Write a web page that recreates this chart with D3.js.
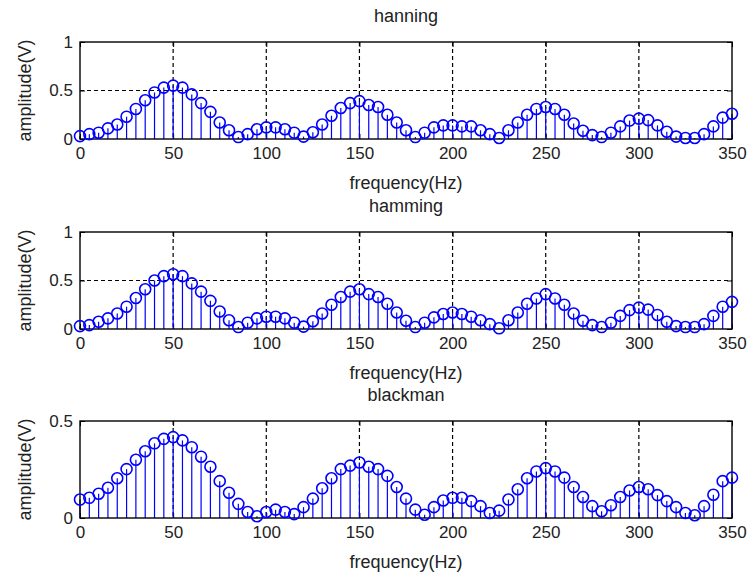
<!DOCTYPE html>
<html>
<head>
<meta charset="utf-8">
<script src="https://cdn.jsdelivr.net/npm/d3@7"></script>
<style>
  body { margin: 0; background: #fff; }
  svg { display: block; }
  text { font-family: "Liberation Sans", Arial, sans-serif; fill: #222; }
</style>
</head>
<body>
<div id="chart"></div>
<script>
/*=====================================================================
 data
======================================================================*/
var freq = [0, 5, 10, 15, 20, 25, 30, 35, 40, 45, 50, 55, 60, 65, 70, 75, 80, 85, 90, 95,
            100, 105, 110, 115, 120, 125, 130, 135, 140, 145, 150, 155, 160, 165, 170, 175, 180, 185, 190, 195,
            200, 205, 210, 215, 220, 225, 230, 235, 240, 245, 250, 255, 260, 265, 270, 275, 280, 285, 290, 295,
            300, 305, 310, 315, 320, 325, 330, 335, 340, 345, 350];

var hanning = [0.03, 0.05, 0.065, 0.11, 0.15, 0.23, 0.31, 0.40, 0.48, 0.53, 0.55, 0.53, 0.46, 0.37, 0.28, 0.17, 0.09, 0.02, 0.05, 0.10,
               0.12, 0.12, 0.10, 0.065, 0.025, 0.07, 0.15, 0.24, 0.32, 0.37, 0.39, 0.35, 0.33, 0.25, 0.17, 0.09, 0.02, 0.065, 0.12, 0.14,
               0.14, 0.13, 0.13, 0.09, 0.05, 0.01, 0.09, 0.17, 0.25, 0.31, 0.33, 0.31, 0.25, 0.16, 0.085, 0.04, 0.02, 0.065, 0.13, 0.19,
               0.21, 0.195, 0.14, 0.075, 0.025, 0.01, 0.01, 0.05, 0.13, 0.22, 0.26];

var hamming = [0.03, 0.04, 0.075, 0.11, 0.16, 0.23, 0.32, 0.41, 0.50, 0.545, 0.565, 0.545, 0.47, 0.385, 0.29, 0.18, 0.09, 0.02, 0.065, 0.11,
               0.127, 0.127, 0.11, 0.065, 0.025, 0.08, 0.16, 0.25, 0.33, 0.385, 0.41, 0.36, 0.33, 0.26, 0.17, 0.085, 0.02, 0.065, 0.12, 0.155,
               0.17, 0.155, 0.127, 0.09, 0.05, 0.007, 0.09, 0.17, 0.26, 0.315, 0.36, 0.315, 0.25, 0.16, 0.085, 0.04, 0.02, 0.065, 0.135, 0.195,
               0.22, 0.2, 0.145, 0.075, 0.03, 0.02, 0.02, 0.05, 0.135, 0.23, 0.28];

var blackman = [0.095, 0.104, 0.125, 0.156, 0.205, 0.252, 0.30, 0.344, 0.385, 0.408, 0.417, 0.40, 0.365, 0.316, 0.264, 0.19, 0.13, 0.073, 0.031, 0.009,
                0.031, 0.043, 0.031, 0.02, 0.056, 0.10, 0.153, 0.205, 0.252, 0.27, 0.286, 0.264, 0.252, 0.217, 0.16, 0.10, 0.043, 0.017, 0.056, 0.09,
                0.104, 0.104, 0.087, 0.061, 0.026, 0.038, 0.095, 0.148, 0.205, 0.24, 0.257, 0.24, 0.208, 0.16, 0.108, 0.061, 0.035, 0.066, 0.108, 0.142,
                0.16, 0.148, 0.118, 0.087, 0.056, 0.026, 0.014, 0.061, 0.12, 0.19, 0.208];

var titles = ["hanning", "hamming", "blackman"];
var xTicks = [0, 50, 100, 150, 200, 250, 300, 350];
var yTicksFull = [0, 0.5, 1];
var yTicksHalf = [0, 0.5];
var xLabel = "frequency(Hz)";
var yLabel = "amplitude(V)";

/*=====================================================================
 layout
======================================================================*/
var width = 749, height = 572;
var plotLeft = 80, plotRight = 732, plotHeight = 97;
var panelTops = [42, 232, 421];
var blue = "#0000ff";

var panels = [
    { title: titles[0], values: hanning, yMax: 1, yTicks: yTicksFull },
    { title: titles[1], values: hamming, yMax: 1, yTicks: yTicksFull },
    { title: titles[2], values: blackman, yMax: 0.5, yTicks: yTicksHalf }
];

var svg = d3.select("#chart").append("svg")
    .attr("width", width)
    .attr("height", height);

var x = d3.scaleLinear().domain([0, 350]).range([0, plotRight - plotLeft]);
var w = plotRight - plotLeft;

panels.forEach(function (p, i) {
    var g = svg.append("g")
        .attr("transform", "translate(" + plotLeft + "," + panelTops[i] + ")");

    var y = d3.scaleLinear().domain([0, p.yMax]).range([plotHeight, 0]);

    // grid (dotted)
    g.selectAll(".vgrid").data(xTicks.slice(1, -1)).enter().append("line")
        .attr("x1", function (d) { return x(d); })
        .attr("x2", function (d) { return x(d); })
        .attr("y1", 0).attr("y2", plotHeight)
        .attr("stroke", "#000").attr("stroke-width", 1.2)
        .attr("stroke-dasharray", "4,3");

    g.selectAll(".hgrid").data(p.yTicks.slice(1).filter(function (d) { return d < p.yMax; })).enter().append("line")
        .attr("x1", 0).attr("x2", w)
        .attr("y1", function (d) { return y(d); })
        .attr("y2", function (d) { return y(d); })
        .attr("stroke", "#000").attr("stroke-width", 1.2)
        .attr("stroke-dasharray", "4,3");

    // inside ticks on all four sides
    var tl = 5;
    [d3.axisBottom(x).tickValues(xTicks).tickSize(tl).tickFormat(""),
     d3.axisTop(x).tickValues(xTicks).tickSize(tl).tickFormat("")].forEach(function (ax, k) {
        g.append("g")
            .attr("transform", "translate(0," + (k === 0 ? plotHeight - tl : tl) + ")")
            .call(ax)
            .call(function (s) { s.select(".domain").remove(); s.selectAll("line").attr("stroke", "#000"); });
    });
    [d3.axisRight(y).tickValues(p.yTicks).tickSize(tl).tickFormat(""),
     d3.axisLeft(y).tickValues(p.yTicks).tickSize(tl).tickFormat("")].forEach(function (ax, k) {
        g.append("g")
            .attr("transform", "translate(" + (k === 0 ? 0 : w) + ",0)")
            .call(ax)
            .call(function (s) { s.select(".domain").remove(); s.selectAll("line").attr("stroke", "#000"); });
    });

    // stems
    g.selectAll(".stem").data(p.values).enter().append("line")
        .attr("x1", function (d, j) { return x(freq[j]); })
        .attr("x2", function (d, j) { return x(freq[j]); })
        .attr("y1", y(0))
        .attr("y2", function (d) { return y(d); })
        .attr("stroke", blue).attr("stroke-width", 1.2);

    // box
    g.append("rect")
        .attr("width", w).attr("height", plotHeight)
        .attr("fill", "none").attr("stroke", "#000").attr("stroke-width", 1.4);

    // markers
    g.selectAll(".mark").data(p.values).enter().append("circle")
        .attr("cx", function (d, j) { return x(freq[j]); })
        .attr("cy", function (d) { return y(d); })
        .attr("r", 5.5)
        .attr("fill", "none").attr("stroke", blue).attr("stroke-width", 1.6);

    // tick labels
    var xAxis = g.append("g")
        .attr("transform", "translate(0," + plotHeight + ")")
        .call(d3.axisBottom(x).tickValues(xTicks).tickSize(0).tickPadding(8).tickFormat(d3.format("d")));
    xAxis.select(".domain").remove();
    xAxis.selectAll("text").style("font-size", "17px").attr("fill", "#222")
        .attr("font-family", "Liberation Sans, Arial, sans-serif");

    var yAxis = g.append("g")
        .call(d3.axisLeft(y).tickValues(p.yTicks).tickSize(0).tickPadding(7).tickFormat(function (d) { return d === 0 ? "0" : String(d); }));
    yAxis.select(".domain").remove();
    yAxis.selectAll("text").style("font-size", "17px").attr("fill", "#222")
        .attr("font-family", "Liberation Sans, Arial, sans-serif");

    // title
    g.append("text")
        .attr("x", w / 2).attr("y", -20)
        .attr("text-anchor", "middle")
        .style("font-size", "18px")
        .text(p.title);

    // x label
    g.append("text")
        .attr("x", w / 2).attr("y", plotHeight + 50)
        .attr("text-anchor", "middle")
        .style("font-size", "18px")
        .text(xLabel);

    // y label
    g.append("text")
        .attr("transform", "translate(" + (-49) + "," + (plotHeight / 2) + ") rotate(-90)")
        .attr("text-anchor", "middle")
        .style("font-size", "18px")
        .text(yLabel);
});
</script>
</body>
</html>
